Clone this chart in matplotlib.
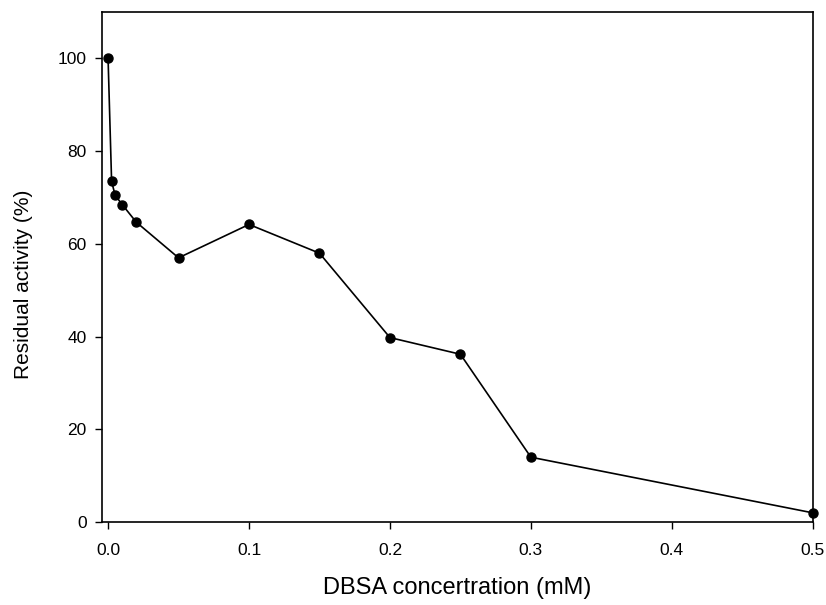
import matplotlib
matplotlib.use("Agg")
import matplotlib.pyplot as plt

plt.rcParams['font.family'] = ['Liberation Sans', 'DejaVu Sans']

# DBSA concentration (mM) vs residual activity (%)
conc = [0.0, 0.0025, 0.005, 0.01, 0.02, 0.05, 0.1, 0.15, 0.2, 0.25, 0.3, 0.5]
activity = [100, 73.5, 70.5, 68.5, 64.7, 57.0, 64.2, 58.0, 39.8, 36.2, 14.0, 2.0]

xticks = [0.0, 0.1, 0.2, 0.3, 0.4, 0.5]
yticks = [0, 20, 40, 60, 80, 100]

fig = plt.figure(figsize=(8.26, 6.05), dpi=100)
ax = fig.add_axes([0.1235, 0.137, 0.8605, 0.843])

ax.plot(conc, activity, color='black', linewidth=1.2, marker='o',
        markersize=6.5, markerfacecolor='black', markeredgecolor='black',
        clip_on=False, zorder=3)

ax.set_xlim(-0.0043, 0.5)
ax.set_ylim(0, 110)
ax.set_xticks(xticks)
ax.set_xticklabels(['%.1f' % t for t in xticks])
ax.set_yticks(yticks)

ax.tick_params(direction='out', length=5, width=1, labelsize=12.5,
               colors='black', top=False, right=False)
ax.tick_params(axis='x', pad=10)
ax.tick_params(axis='y', pad=6)
for s in ax.spines.values():
    s.set_linewidth(1.2)
    s.set_color('black')

# typo kept as in the original figure
ax.set_xlabel('DBSA concertration (mM)', fontsize=17, labelpad=14)
ax.set_ylabel('Residual activity (%)', fontsize=15)
# the y label sits a bit below the middle in the original
ax.yaxis.set_label_coords(-0.097, 0.467)

fig.savefig('out.png', dpi=100)
